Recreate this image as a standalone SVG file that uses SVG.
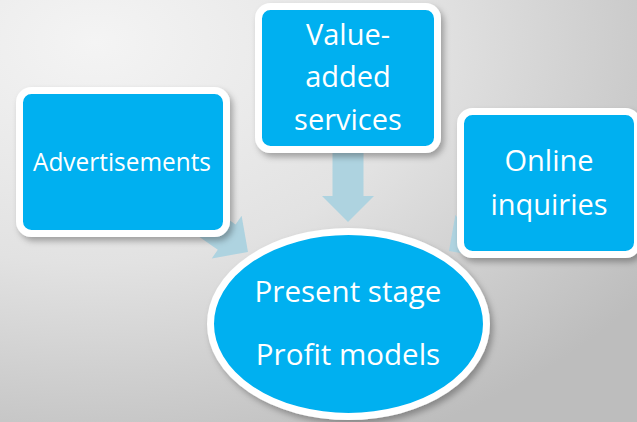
<svg xmlns="http://www.w3.org/2000/svg" width="637" height="422" viewBox="0 0 637 422">
  <defs>
    <radialGradient id="bg" cx="0.15" cy="0.1" r="1.05">
      <stop offset="0" stop-color="#f4f4f4"/>
      <stop offset="0.5" stop-color="#e2e2e2"/>
      <stop offset="1" stop-color="#bdbdbd"/>
    </radialGradient>
    <filter id="shadow" x="-10%" y="-10%" width="125%" height="130%">
      <feDropShadow dx="3" dy="4" stdDeviation="3" flood-color="#000" flood-opacity="0.3"/>
    </filter>
    <!-- block arrow pointing along +x, tip at the origin -->
    <polygon id="arrow" points="0,0 -26,-26 -26,-15.5 -75,-15.5 -75,15.5 -26,15.5 -26,26"/>
  </defs>
  <style>
    .box { fill: #00b0f0; stroke: #ffffff; stroke-width: 7; filter: url(#shadow); }
    .arrow { fill: #aed3e0; }
    .label { font-family: "Open Sans", "Noto Sans", "DejaVu Sans", sans-serif; fill: #ffffff; text-anchor: middle; }
  </style>

  <rect width="637" height="422" fill="url(#bg)"/>

  <g id="connectors">
    <use href="#arrow" class="arrow" transform="translate(348,222) rotate(90)"/>
    <use href="#arrow" class="arrow" transform="translate(248,252) rotate(35)"/>
    <use href="#arrow" class="arrow" transform="translate(449,251) rotate(145)"/>
  </g>

  <g id="advertisements">
    <rect class="box" x="19.5" y="90.5" width="207" height="143" rx="12"/>
    <text class="label" x="122" y="171" font-size="26" textLength="178" lengthAdjust="spacingAndGlyphs">Advertisements</text>
  </g>

  <g id="value-added">
    <rect class="box" x="258.5" y="6.5" width="179" height="143" rx="12"/>
    <text class="label" x="348" y="45" font-size="29">Value-</text>
    <text class="label" x="348" y="87" font-size="29">added</text>
    <text class="label" x="348" y="130" font-size="29">services</text>
  </g>

  <g id="online-inquiries">
    <rect class="box" x="460.5" y="111.5" width="177" height="143" rx="12"/>
    <text class="label" x="549" y="171" font-size="29">Online</text>
    <text class="label" x="549" y="215" font-size="29">inquiries</text>
  </g>

  <g id="profit-models">
    <ellipse class="box" cx="348.5" cy="324" rx="138" ry="92.5"/>
    <text class="label" x="348" y="302" font-size="29.5">Present stage</text>
    <text class="label" x="348" y="365" font-size="29.5">Profit models</text>
  </g>
</svg>
